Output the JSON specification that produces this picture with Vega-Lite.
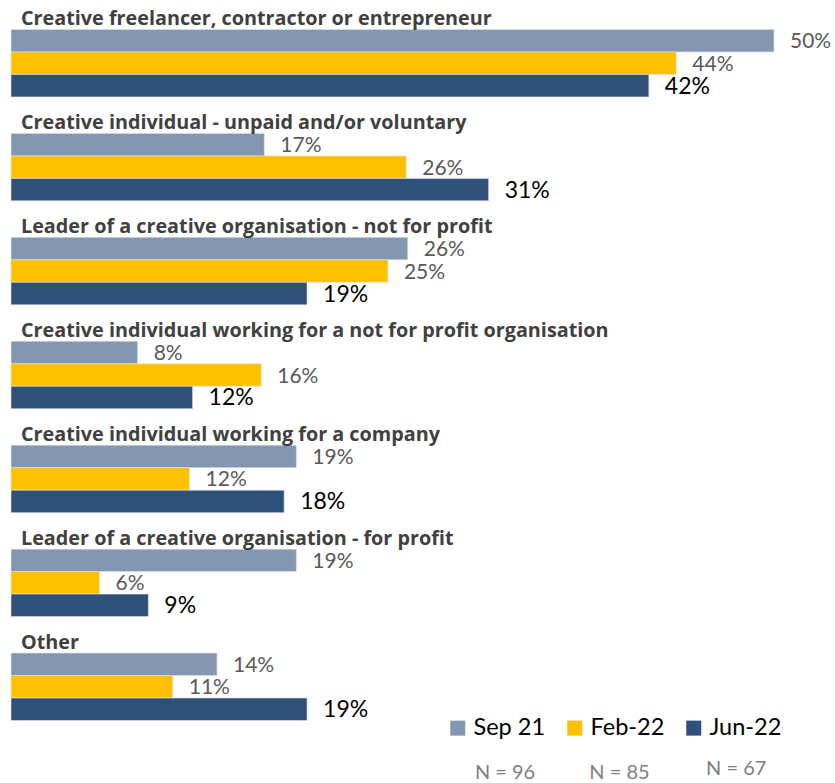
{
  "$schema": "https://vega.github.io/schema/vega-lite/v6.json",
  "width": 763,
  "height": 750,
  "autosize": {"type": "none"},
  "padding": {"left": 11, "top": 0, "right": 61, "bottom": 33},
  "background": "white",
  "config": {"view": {"stroke": null}, "font": "Lato"},
  "data": {
    "values": [
      {"category": "Creative freelancer, contractor or entrepreneur", "series": "Sep 21", "value": 50.0},
      {"category": "Creative freelancer, contractor or entrepreneur", "series": "Feb-22", "value": 43.6},
      {"category": "Creative freelancer, contractor or entrepreneur", "series": "Jun-22", "value": 41.8},
      {"category": "Creative individual - unpaid and/or voluntary", "series": "Sep 21", "value": 16.6},
      {"category": "Creative individual - unpaid and/or voluntary", "series": "Feb-22", "value": 25.9},
      {"category": "Creative individual - unpaid and/or voluntary", "series": "Jun-22", "value": 31.3},
      {"category": "Leader of a creative organisation - not for profit", "series": "Sep 21", "value": 26.0},
      {"category": "Leader of a creative organisation - not for profit", "series": "Feb-22", "value": 24.7},
      {"category": "Leader of a creative organisation - not for profit", "series": "Jun-22", "value": 19.4},
      {"category": "Creative individual working for a not for profit organisation", "series": "Sep 21", "value": 8.3},
      {"category": "Creative individual working for a not for profit organisation", "series": "Feb-22", "value": 16.4},
      {"category": "Creative individual working for a not for profit organisation", "series": "Jun-22", "value": 11.9},
      {"category": "Creative individual working for a company", "series": "Sep 21", "value": 18.7},
      {"category": "Creative individual working for a company", "series": "Feb-22", "value": 11.7},
      {"category": "Creative individual working for a company", "series": "Jun-22", "value": 17.9},
      {"category": "Leader of a creative organisation - for profit", "series": "Sep 21", "value": 18.7},
      {"category": "Leader of a creative organisation - for profit", "series": "Feb-22", "value": 5.8},
      {"category": "Leader of a creative organisation - for profit", "series": "Jun-22", "value": 9.0},
      {"category": "Other", "series": "Sep 21", "value": 13.5},
      {"category": "Other", "series": "Feb-22", "value": 10.6},
      {"category": "Other", "series": "Jun-22", "value": 19.4}
    ]
  },
  "transform": [
    {"calculate": "format(datum.value, '.0f') + '%'", "as": "label"}
  ],
  "encoding": {
    "y": {
      "field": "category",
      "type": "nominal",
      "sort": null,
      "axis": null,
      "scale": {"paddingInner": 0.351, "paddingOuter": 0.2837}
    }
  },
  "layer": [
    {
      "mark": {"type": "bar", "stroke": "#dfe4ea", "strokeWidth": 0.6},
      "encoding": {
        "x": {"field": "value", "type": "quantitative", "axis": null, "scale": {"domain": [0, 50], "nice": false}},
        "yOffset": {"field": "series", "type": "nominal", "sort": ["Sep 21", "Feb-22", "Jun-22"], "scale": {"paddingInner": 0, "paddingOuter": 0}},
        "color": {
          "field": "series",
          "type": "nominal",
          "sort": ["Sep 21", "Feb-22", "Jun-22"],
          "scale": {"domain": ["Sep 21", "Feb-22", "Jun-22"], "range": ["#8497B0", "#FFC000", "#2F5078"]},
          "legend": {
            "orient": "none",
            "legendX": 435,
            "legendY": 716,
            "direction": "horizontal",
            "title": null,
            "symbolType": "square",
            "symbolSize": 225,
            "symbolStrokeWidth": 0,
            "labelFontSize": 23.5,
            "labelColor": "#000000",
            "labelFont": "Lato",
            "labelOffset": 4,
            "columnPadding": 17
          }
        }
      }
    },
    {
      "transform": [{"filter": "datum.series !== 'Jun-22'"}],
      "mark": {"type": "text", "align": "left", "baseline": "middle", "dx": 16, "dy": 1.5, "fontSize": 21, "color": "#595959"},
      "encoding": {
        "x": {"field": "value", "type": "quantitative"},
        "yOffset": {"field": "series", "type": "nominal", "sort": ["Sep 21", "Feb-22", "Jun-22"]},
        "text": {"field": "label"}
      }
    },
    {
      "transform": [{"filter": "datum.series === 'Jun-22'"}],
      "mark": {"type": "text", "align": "left", "baseline": "middle", "dx": 16, "dy": 1, "fontSize": 23, "color": "#000000"},
      "encoding": {
        "x": {"field": "value", "type": "quantitative"},
        "yOffset": {"field": "series", "type": "nominal", "sort": ["Sep 21", "Feb-22", "Jun-22"]},
        "text": {"field": "label"}
      }
    },
    {
      "transform": [{"filter": "datum.series === 'Sep 21'"}],
      "mark": {"type": "text", "align": "left", "baseline": "alphabetic", "dx": 10, "dy": -38, "fontSize": 19.8, "fontWeight": "bold", "font": "Open Sans", "color": "#404040"},
      "encoding": {
        "x": {"datum": 0},
        "text": {"field": "category"}
      }
    },
    {
      "data": {"values": [{"n": "N = 96"}]},
      "mark": {"type": "text", "align": "left", "baseline": "alphabetic", "dy": 92, "fontSize": 20, "color": "#7f7f7f"},
      "encoding": {"x": {"datum": 30.4}, "y": {"datum": "Other"}, "text": {"field": "n"}}
    },
    {
      "data": {"values": [{"n": "N = 85"}]},
      "mark": {"type": "text", "align": "left", "baseline": "alphabetic", "dy": 92, "fontSize": 20, "color": "#7f7f7f"},
      "encoding": {"x": {"datum": 37.9}, "y": {"datum": "Other"}, "text": {"field": "n"}}
    },
    {
      "data": {"values": [{"n": "N = 67"}]},
      "mark": {"type": "text", "align": "left", "baseline": "alphabetic", "dy": 88, "fontSize": 20, "color": "#7f7f7f"},
      "encoding": {"x": {"datum": 45.55}, "y": {"datum": "Other"}, "text": {"field": "n"}}
    }
  ]
}
